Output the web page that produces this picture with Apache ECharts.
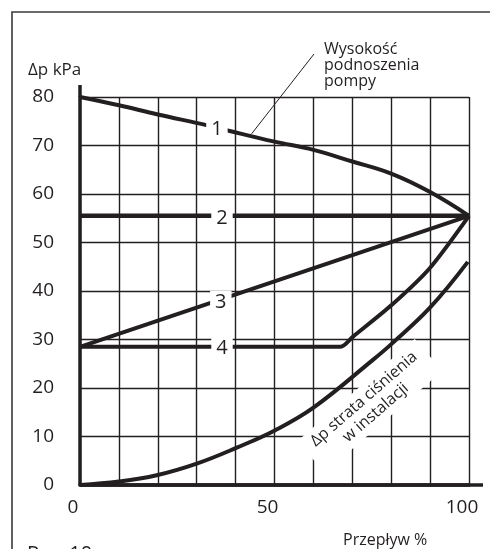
<!DOCTYPE html>
<html>
<head>
<meta charset="utf-8">
<script src="https://cdn.jsdelivr.net/npm/echarts@6/dist/echarts.min.js"></script>
<style>
  html, body { margin: 0; padding: 0; background: #fff; }
  #chart { width: 490px; height: 549px; }
</style>
</head>
<body>
<div id="chart"></div>
<script>
// Flow (%) on x, pressure difference (kPa) on y
const flowLabels = [0, 50, 100];

// 1: pump head curve
const curve1 = [[0, 80], [10, 78.3], [20, 76.4], [32.5, 74.2], [38.5, 73.0], [50, 70.8],
                [60, 69.1], [70, 66.7], [80, 64.2], [90, 60.4], [100, 55.5]];
// 2: constant pressure
const curve2 = [[0, 55.5], [100, 55.5]];
// 3: proportional pressure
const curve3 = [[0, 28.5], [100, 55.5]];
// 4: constant then rising
const curve4 = [[0, 28.5], [67, 28.5], [70.2, 30.6], [80.1, 37.1], [89.9, 44.7], [100, 55.5]];
// installation pressure loss
const lossCurve = [[0, 0], [10, 0.7], [19.7, 2.0], [30, 4.4], [40.3, 7.7], [50.2, 11.3],
                   [60.1, 16.0], [75.3, 25.8], [80.1, 29.1], [89.9, 36.5], [99.7, 46.0]];

// curve number tags: [text, flow, kPa]
const curveTags = [['1', 35.2, 73.8], ['2', 36.5, 55.5], ['3', 36.2, 38.0], ['4', 36.5, 28.5]];

const INK = '#231f20';
const FONT = '"Open Sans", "Noto Sans", sans-serif';

const chart = echarts.init(document.getElementById('chart'));

function lineSeries(data, smooth, width) {
  return {
    type: 'line',
    data: data,
    smooth: smooth,
    symbol: 'none',
    silent: true,
    animation: false,
    lineStyle: { color: INK, width: width || 4, cap: 'butt' },
    z: 2
  };
}

chart.setOption({
  animation: false,
  backgroundColor: '#fff',
  grid: { left: 80, right: 21, top: 97, bottom: 64 },
  xAxis: {
    type: 'value', min: 0, max: 100, interval: 10,
    axisLine: { show: true, lineStyle: { color: INK, width: 3.5 } },
    axisTick: { show: false },
    splitLine: { show: true, lineStyle: { color: INK, width: 1.4 } },
    axisLabel: {
      color: INK, fontFamily: FONT, fontSize: 19, margin: 13,
      padding: [0, 14, 0, 0],
      formatter: v => flowLabels.includes(v) ? String(v) : ''
    }
  },
  yAxis: {
    type: 'value', min: 0, max: 80, interval: 10,
    axisLine: { show: true, lineStyle: { color: INK, width: 3.5 } },
    axisTick: { show: false },
    splitLine: { show: true, lineStyle: { color: INK, width: 1.4 } },
    axisLabel: { color: INK, fontFamily: FONT, fontSize: 19, margin: 26, padding: [6, 0, 0, 0] }
  },
  series: [
    lineSeries(lossCurve, 0.4),
    lineSeries(curve4, 0.25),
    lineSeries(curve3, false),
    lineSeries(curve2, false, 4.5),
    lineSeries(curve1, 0.4)
  ]
});

const px = p => chart.convertToPixel({ gridIndex: 0 }, p);
const origin = px([0, 0]);
const topLeft = px([0, 80]);
const leaderEnd = px([44.1, 72.4]);
const lossTag = px([74.5, 16.3]);

const graphics = [
  // outer frame
  { type: 'rect', shape: { x: 12, y: 12, width: 600, height: 600 },
    style: { fill: 'none', stroke: '#3a3a3a', lineWidth: 1.6 }, z: 0, silent: true },
  // axis extensions
  { type: 'line', shape: { x1: origin[0], y1: origin[1], x2: origin[0] + 403, y2: origin[1] },
    style: { stroke: INK, lineWidth: 3.5 }, z: 3 },
  { type: 'line', shape: { x1: topLeft[0], y1: topLeft[1], x2: topLeft[0], y2: topLeft[1] - 12 },
    style: { stroke: INK, lineWidth: 3.5 }, z: 3 },
  // axis titles
  { type: 'text', left: 28, top: 62,
    style: { text: 'Δp kPa', fill: INK, font: '17px ' + FONT }, z: 5 },
  { type: 'text', left: 343, top: 532,
    style: { text: 'Przepływ %', fill: INK, font: '16px ' + FONT }, z: 5 },
  { type: 'text', left: 27, top: 544,
    style: { text: 'Rys. 10', fill: INK, font: '20px ' + FONT }, z: 5 },
  // pump head annotation
  { type: 'text', left: 324, top: 41,
    style: { text: 'Wysokość\npodnoszenia\npompy', fill: INK, font: '16px ' + FONT, lineHeight: 16 }, z: 5 },
  { type: 'line', shape: { x1: 314, y1: 54, x2: leaderEnd[0], y2: leaderEnd[1] },
    style: { stroke: INK, lineWidth: 1 }, z: 5 },
  // installation loss label (white box hides the grid behind it)
  { type: 'text', x: lossTag[0], y: lossTag[1], rotation: 41 * Math.PI / 180,
    style: { text: 'Δp strata ciśnienia\nw instalacji', fill: INK, font: '16px ' + FONT,
             lineHeight: 18, align: 'center', verticalAlign: 'middle',
             backgroundColor: '#fff', padding: [3, 10] }, z: 1 }
];

curveTags.forEach(([t, fx, fy]) => {
  const p = px([fx, fy]);
  graphics.push({
    type: 'text', x: p[0], y: p[1] + 2,
    style: { text: t, fill: INK, font: '20px ' + FONT, align: 'center', verticalAlign: 'middle',
             backgroundColor: '#fff', padding: [3, 5, 1, 5] },
    z: 10
  });
});

chart.setOption({ graphic: graphics });
</script>
</body>
</html>
